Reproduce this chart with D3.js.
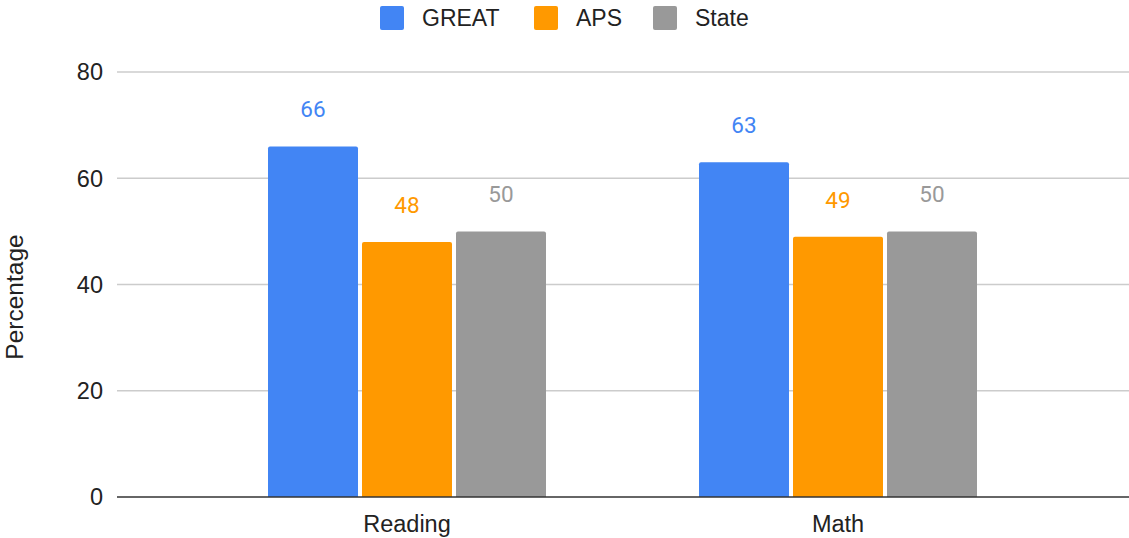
<!DOCTYPE html>
<html>
<head>
<meta charset="utf-8">
<script src="https://cdn.jsdelivr.net/npm/d3@7"></script>
<style>
  body { margin: 0; background: #fff; }
  svg { display: block; }
</style>
</head>
<body>
<div id="chart"></div>
<script>
var categories = ["Reading", "Math"];
var seriesNames = ["GREAT", "APS", "State"];
var greatValues = [66, 63];
var apsValues = [48, 49];
var stateValues = [50, 50];
var yTicks = [0, 20, 40, 60, 80];

var colors = { GREAT: "#4285f4", APS: "#ff9900", State: "#999999" };
var valuesBySeries = { GREAT: greatValues, APS: apsValues, State: stateValues };

var width = 1129, height = 538;
var gridLeft = 117, gridRight = 1129;
var plotTop = 72, plotBottom = 497;
var labelFont = "Liberation Sans, Arial, sans-serif";

var svg = d3.select("#chart").append("svg")
	.attr("width", width)
	.attr("height", height);

var y = d3.scaleLinear().domain([0, 80]).range([plotBottom, plotTop]);

var x0 = d3.scaleBand()
	.domain(categories)
	.range([191.5, 1053.5])
	.paddingInner(0.355)
	.paddingOuter(0.1775);

var x1 = d3.scaleBand()
	.domain(seriesNames)
	.range([0, x0.bandwidth()])
	.paddingInner(0.0426);

// gridlines
svg.append("g")
	.selectAll("line")
	.data(yTicks.filter(function(t) { return t > 0; }))
	.enter().append("line")
		.attr("x1", gridLeft)
		.attr("x2", gridRight)
		.attr("y1", function(d) { return y(d); })
		.attr("y2", function(d) { return y(d); })
		.attr("stroke", "#cccccc")
		.attr("stroke-width", 1.3);

// y tick labels
svg.append("g")
	.selectAll("text")
	.data(yTicks)
	.enter().append("text")
		.attr("x", 103)
		.attr("y", function(d) { return y(d); })
		.attr("dy", "0.36em")
		.attr("text-anchor", "end")
		.attr("font-family", labelFont)
		.attr("font-size", 23.5)
		.attr("fill", "#222")
		.text(function(d) { return d; });

// bars
var rows = categories.map(function(c, i) {
	return seriesNames.map(function(s) {
		return { category: c, series: s, value: valuesBySeries[s][i] };
	});
});

var groups = svg.append("g")
	.selectAll("g")
	.data(rows)
	.enter().append("g")
		.attr("transform", function(d, i) { return "translate(" + x0(categories[i]) + ",0)"; });

groups.selectAll("path")
	.data(function(d) { return d; })
	.enter().append("path")
		.attr("fill", function(d) { return colors[d.series]; })
		.attr("d", function(d) {
			var bx = x1(d.series), bw = x1.bandwidth();
			var top = y(d.value), bottom = y(0), r = 2;
			return "M" + bx + "," + bottom +
				"V" + (top + r) +
				"Q" + bx + "," + top + " " + (bx + r) + "," + top +
				"H" + (bx + bw - r) +
				"Q" + (bx + bw) + "," + top + " " + (bx + bw) + "," + (top + r) +
				"V" + bottom + "Z";
		});

groups.selectAll("text")
	.data(function(d) { return d; })
	.enter().append("text")
		.attr("x", function(d) { return x1(d.series) + x1.bandwidth() / 2; })
		.attr("y", function(d) { return y(d.value) - 29; })
		.attr("text-anchor", "middle")
		.attr("font-family", "Roboto, sans-serif")
		.attr("font-size", 22.5)
		.attr("fill", function(d) { return colors[d.series]; })
		.text(function(d) { return d.value; });

// baseline
svg.append("line")
	.attr("x1", gridLeft)
	.attr("x2", gridRight)
	.attr("y1", y(0))
	.attr("y2", y(0))
	.attr("stroke", "#333")
	.attr("stroke-width", 1.5);

// category labels
svg.append("g")
	.selectAll("text")
	.data(categories)
	.enter().append("text")
		.attr("x", function(d) { return x0(d) + x0.bandwidth() / 2; })
		.attr("y", 532)
		.attr("text-anchor", "middle")
		.attr("font-family", labelFont)
		.attr("font-size", 23.5)
		.attr("fill", "#222")
		.text(function(d) { return d; });

// y axis title
svg.append("text")
	.attr("transform", "translate(23,297) rotate(-90)")
	.attr("text-anchor", "middle")
	.attr("font-family", labelFont)
	.attr("font-size", 24.5)
	.attr("fill", "#222")
	.text("Percentage");

// legend
var legendX = [380, 534, 653];
var legend = svg.append("g")
	.selectAll("g")
	.data(seriesNames)
	.enter().append("g")
		.attr("transform", function(d, i) { return "translate(" + legendX[i] + ",6)"; });

legend.append("rect")
	.attr("width", 24)
	.attr("height", 24)
	.attr("rx", 2)
	.attr("fill", function(d) { return colors[d]; });

legend.append("text")
	.attr("x", 42)
	.attr("y", 12)
	.attr("dy", "0.36em")
	.attr("font-family", labelFont)
	.attr("font-size", 23)
	.attr("fill", "#222")
	.text(function(d) { return d; });
</script>
</body>
</html>
